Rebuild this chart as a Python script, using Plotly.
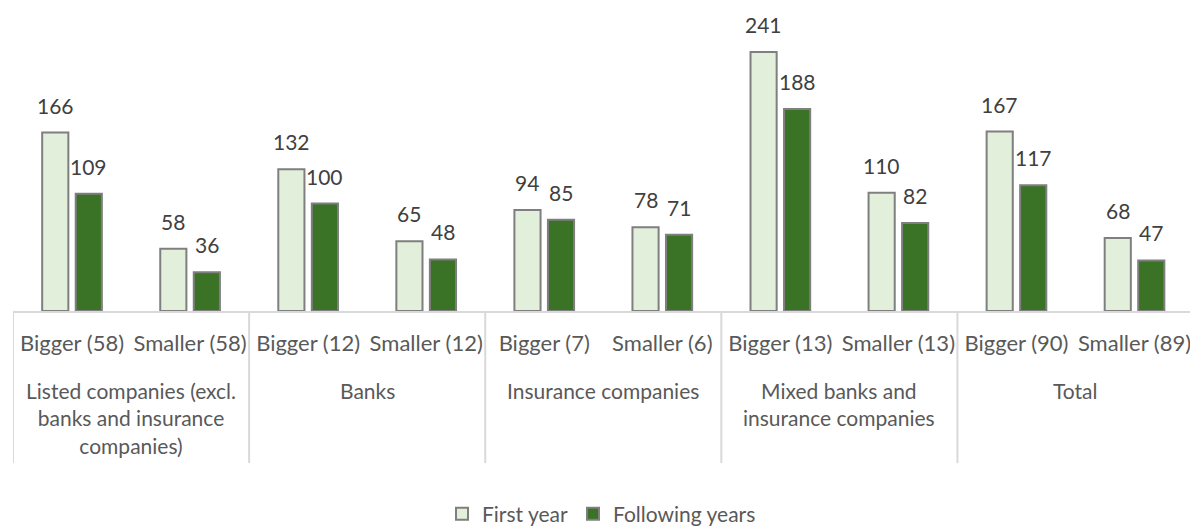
import plotly.graph_objects as go

# Sector groups and the size split within each group
groups = [
    "Listed companies (excl.<br>banks and insurance<br>companies)",
    "Banks",
    "Insurance companies",
    "Mixed banks and<br>insurance companies",
    "Total",
]
sizes = [
    ["Bigger (58)", "Smaller (58)"],
    ["Bigger (12)", "Smaller (12)"],
    ["Bigger (7)", "Smaller (6)"],
    ["Bigger (13)", "Smaller (13)"],
    ["Bigger (90)", "Smaller (89)"],
]

first_year = [166, 58, 132, 65, 94, 78, 241, 110, 167, 68]
following_years = [109, 36, 100, 48, 85, 71, 188, 82, 117, 47]

categories = [s for pair in sizes for s in pair]

FONT = "Lato"
SIZE = 21
LABEL_GREY = "#595959"
VALUE_GREY = "#404040"
AXIS_GREY = "#D9D9D9"

BARGAP = 0.432
BARGROUPGAP = 0.22
PLOT_LEFT, PLOT_BOTTOM = 13, 311
HALF_SLOT_PX = 16.75  # offset from category centre to each bar's centre

fig = go.Figure()
series = [
    ("First year", first_year, "#E2EFDA", -HALF_SLOT_PX),
    ("Following years", following_years, "#3A7226", HALF_SLOT_PX),
]
for name, values, colour, shift in series:
    fig.add_trace(go.Bar(
        name=name,
        x=categories,
        y=values,
        marker=dict(color=colour, line=dict(color="#7F7F7F", width=2)),
        hoverinfo="x+y+name",
    ))
    # value labels above each bar
    for cat, v in zip(categories, values):
        fig.add_annotation(
            x=cat, y=v, xref="x", yref="y",
            text=str(v), showarrow=False,
            xanchor="center", yanchor="bottom",
            xshift=shift, yshift=13,
            font=dict(family=FONT, size=SIZE, color=VALUE_GREY),
        )

# group names under the size labels, centred on each pair
for i, g in enumerate(groups):
    fig.add_annotation(
        x=2 * i + 0.5, y=-0.208, xref="x", yref="paper",
        text=g, showarrow=False,
        xanchor="center", yanchor="top", align="center",
        font=dict(family=FONT, size=SIZE, color=LABEL_GREY),
    )

# vertical dividers between groups
for i in range(len(groups) + 1):
    fig.add_shape(
        type="line", xref="x", yref="paper",
        x0=2 * i - 0.5, x1=2 * i - 0.5, y0=0, y1=-0.489,
        line=dict(color=AXIS_GREY, width=2),
    )

fig.update_layout(
    width=1190,
    height=527,
    margin=dict(l=PLOT_LEFT, r=0, t=0, b=527 - PLOT_BOTTOM, autoexpand=False),
    paper_bgcolor="white",
    plot_bgcolor="white",
    barmode="group",
    bargap=BARGAP,
    bargroupgap=BARGROUPGAP,
    font=dict(family=FONT, size=SIZE, color=LABEL_GREY),
    showlegend=True,
    legend=dict(
        orientation="h",
        x=0.5, xanchor="center",
        y=-0.653, yanchor="middle",
        font=dict(family=FONT, size=SIZE, color=LABEL_GREY),
        itemwidth=30,
    ),
    xaxis=dict(
        type="category",
        range=[-0.5, 9.47],
        showline=True,
        linecolor=AXIS_GREY,
        linewidth=2,
        ticks="outside",
        ticklen=12,
        tickcolor="rgba(0,0,0,0)",
        tickfont=dict(family=FONT, size=22, color=LABEL_GREY),
        showgrid=False,
    ),
    yaxis=dict(
        range=[0, 289.4],
        visible=False,
        showgrid=False,
        zeroline=False,
    ),
)

fig.write_html("out.html")
